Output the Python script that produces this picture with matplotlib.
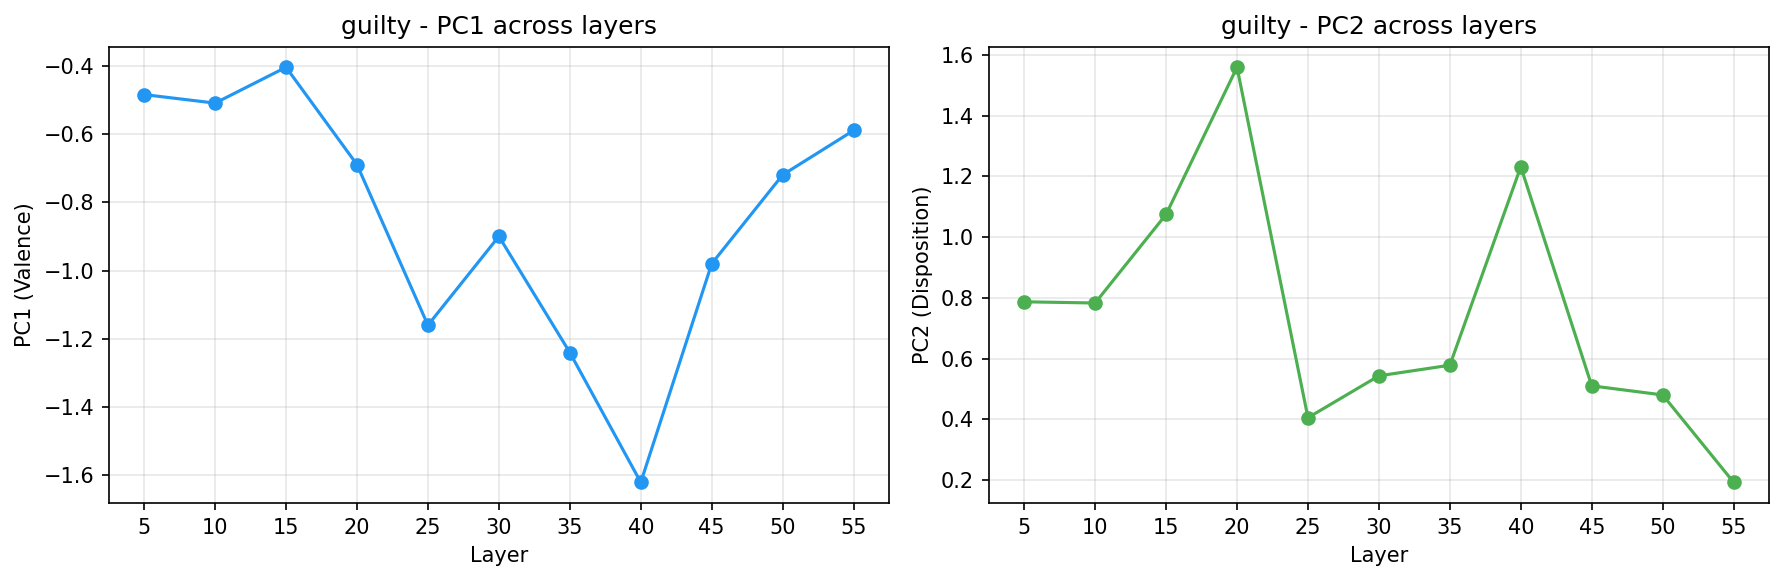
import numpy as np
import matplotlib
matplotlib.use("Agg")
import matplotlib.pyplot as plt

emotion = "guilty"
layers = [5, 10, 15, 20, 25, 30, 35, 40, 45, 50, 55]
pc1 = [-0.485, -0.51, -0.405, -0.69, -1.16, -0.90, -1.24, -1.62, -0.98, -0.72, -0.59]
pc2 = [0.787, 0.783, 1.075, 1.56, 0.405, 0.543, 0.578, 1.232, 0.51, 0.48, 0.192]

fig, axes = plt.subplots(1, 2, figsize=(12, 4))

ax = axes[0]
ax.plot(layers, pc1, "o-", color="#2196F3", lw=1.5, ms=6)
ax.set_xlabel("Layer")
ax.set_ylabel("PC1 (Valence)")
ax.set_title(f"{emotion} - PC1 across layers")
ax.set_xticks(layers)
ax.grid(True, alpha=0.3)

ax = axes[1]
ax.plot(layers, pc2, "o-", color="#4CAF50", lw=1.5, ms=6)
ax.set_xlabel("Layer")
ax.set_ylabel("PC2 (Disposition)")
ax.set_title(f"{emotion} - PC2 across layers")
ax.set_xticks(layers)
ax.grid(True, alpha=0.3)

plt.tight_layout()
plt.savefig("out.png", dpi=150, bbox_inches="tight")
